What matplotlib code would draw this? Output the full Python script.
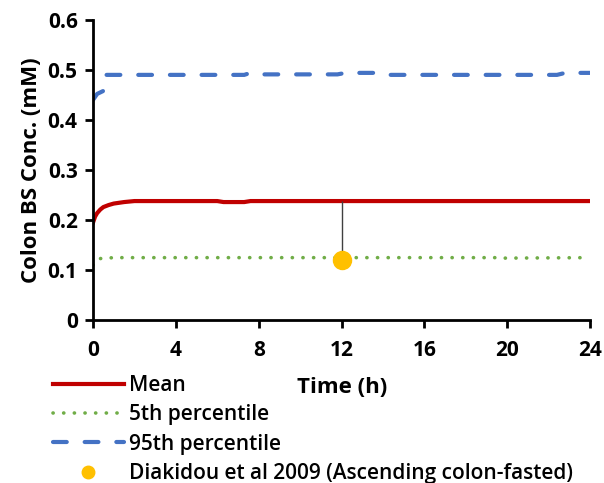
import matplotlib
matplotlib.use('Agg')
import matplotlib.pyplot as plt
from matplotlib.lines import Line2D

plt.rcParams['font.family'] = ['Open Sans', 'DejaVu Sans']

# simulated profiles
time_mean = [0, 0.1, 0.2, 0.35, 0.5, 0.75, 1.0, 1.5, 2, 4, 6, 6.3, 7.3, 7.6, 10, 12, 16, 20, 24]
mean = [0.195, 0.207, 0.214, 0.221, 0.226, 0.230, 0.233, 0.236, 0.238, 0.238, 0.238, 0.236, 0.236, 0.238, 0.238, 0.238, 0.238, 0.238, 0.238]

time_p5 = [0, 0.1, 0.3, 1, 4, 8, 12, 16, 19.5, 19.6, 24]
p5 = [0.11, 0.118, 0.123, 0.125, 0.125, 0.125, 0.125, 0.125, 0.125, 0.124, 0.125]

time_p95 = [0, 0.2, 0.4, 0.6, 0.65, 2, 4, 7.3, 7.6, 8, 11.8, 12.2, 14, 14.3, 18, 22.4, 22.8, 24]
p95 = [0.44, 0.452, 0.456, 0.46, 0.49, 0.49, 0.49, 0.49, 0.494, 0.491, 0.491, 0.494, 0.494, 0.49, 0.49, 0.49, 0.494, 0.494]

# observed data
obs_time = [12]
obs_conc = [0.12]
obs_err_up = [0.118]

fig = plt.figure(figsize=(6.04, 4.83), dpi=100)
ax = fig.add_axes([0.154, 0.337, 0.823, 0.622])

blue_dash = (0, (3.3, 4.3))
green_dot = (0, (0.05, 2.9))
ax.plot(time_p95, p95, color='#4472C4', lw=3, ls=blue_dash, dash_capstyle='round')
ax.plot(time_p5, p5, color='#70AD47', lw=2.6, ls=green_dot, dash_capstyle='round')
ax.plot(time_mean, mean, color='#C00000', lw=3)
ax.errorbar(obs_time, obs_conc, yerr=[[0], obs_err_up], fmt='none', ecolor='#404040', elinewidth=1, capsize=0)
ax.plot(obs_time, obs_conc, 'o', color='#FFC000', ms=13, zorder=5)

ax.set_xlim(0, 24)
ax.set_ylim(0, 0.6)
ax.set_xticks(range(0, 25, 4))
ax.set_yticks([0, 0.1, 0.2, 0.3, 0.4, 0.5, 0.6])
ax.set_yticklabels(['0', '0.1', '0.2', '0.3', '0.4', '0.5', '0.6'])
for s in ['top', 'right']:
    ax.spines[s].set_visible(False)
for s in ['left', 'bottom']:
    ax.spines[s].set_linewidth(2)
ax.tick_params(direction='out', width=2, length=6, labelsize=15)
ax.tick_params(axis='x', pad=8)
ax.tick_params(axis='y', pad=5)
for lab in ax.get_xticklabels() + ax.get_yticklabels():
    lab.set_fontweight('bold')
ax.set_ylabel('Colon BS Conc. (mM)', fontsize=16, fontweight='bold', labelpad=4)
fig.text(0.567, 0.197, 'Time (h)', fontsize=16, fontweight='bold', ha='center', va='center')

handles = [
    Line2D([], [], color='#C00000', lw=3),
    Line2D([], [], color='#70AD47', lw=2.6, ls=green_dot, dash_capstyle='round'),
    Line2D([], [], color='#4472C4', lw=3, ls=(0, (3.3, 4.3)), dash_capstyle='round'),
    Line2D([], [], color='#FFC000', marker='o', ls='none', ms=9),
]
labels = ['Mean', '5th percentile', '95th percentile', 'Diakidou et al 2009 (Ascending colon-fasted)']
fig.legend(handles, labels, loc='upper left', bbox_to_anchor=(0.07, 0.245), frameon=False,
           prop={'size': 15, 'weight': 'semibold'}, handlelength=3.4, handletextpad=0.25,
           labelspacing=0.4, borderpad=0)

fig.savefig('out.png', dpi=100)
